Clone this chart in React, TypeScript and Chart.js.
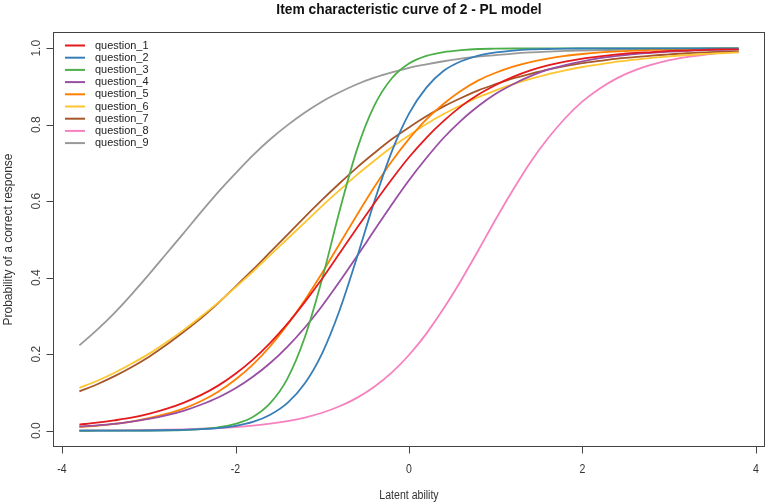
import React, { useEffect, useRef } from "react";
import { Chart, registerables } from "chart.js";

Chart.register(...registerables);

// ---- data ----
const theta = [
  -3.8, -3.6, -3.4, -3.2, -3.0, -2.8, -2.6, -2.4, -2.2, -2.0, -1.8, -1.6, -1.4,
  -1.2, -1.0, -0.8, -0.6, -0.4, -0.2, 0.0, 0.2, 0.4, 0.6, 0.8, 1.0, 1.2, 1.4,
  1.6, 1.8, 2.0, 2.2, 2.4, 2.6, 2.8, 3.0, 3.2, 3.4, 3.6, 3.8,
];

const question1 = [
  0.016, 0.021, 0.027, 0.034, 0.044, 0.057, 0.073, 0.093, 0.118, 0.149, 0.186,
  0.23, 0.28, 0.337, 0.398, 0.464, 0.53, 0.595, 0.657, 0.715, 0.766, 0.81,
  0.848, 0.879, 0.904, 0.925, 0.942, 0.955, 0.965, 0.973, 0.979, 0.984, 0.988,
  0.99, 0.993, 0.994, 0.996, 0.997, 0.997,
];
const question2 = [
  0.0001, 0.0001, 0.0002, 0.0004, 0.0007, 0.0013, 0.0023, 0.004, 0.007, 0.013,
  0.023, 0.042, 0.073, 0.124, 0.203, 0.315, 0.453, 0.599, 0.729, 0.829, 0.897,
  0.941, 0.966, 0.981, 0.989, 0.994, 0.997, 0.998, 0.999, 0.9994, 0.9997,
  0.9998, 0.9999, 0.9999, 0.9999, 0.9999, 0.9999, 0.9999, 0.9999,
];
const question3 = [
  0.00003, 0.00006, 0.0001, 0.0003, 0.0005, 0.001, 0.002, 0.0044, 0.009, 0.018,
  0.036, 0.072, 0.137, 0.245, 0.398, 0.575, 0.735, 0.85, 0.921, 0.96, 0.98,
  0.99, 0.995, 0.998, 0.9988, 0.9994, 0.9997, 0.9999, 0.9999, 0.9999, 0.9999,
  0.9999, 0.9999, 0.9999, 0.9999, 0.9999, 0.9999, 0.9999, 0.9999,
];
const question4 = [
  0.011, 0.014, 0.018, 0.024, 0.031, 0.04, 0.052, 0.068, 0.087, 0.111, 0.141,
  0.177, 0.22, 0.27, 0.327, 0.39, 0.456, 0.524, 0.591, 0.655, 0.713, 0.766,
  0.811, 0.849, 0.881, 0.906, 0.927, 0.944, 0.956, 0.966, 0.974, 0.98, 0.985,
  0.988, 0.991, 0.993, 0.995, 0.996, 0.997,
];
const question5 = [
  0.01, 0.013, 0.018, 0.024, 0.033, 0.044, 0.058, 0.077, 0.102, 0.134, 0.173,
  0.221, 0.278, 0.342, 0.413, 0.489, 0.564, 0.637, 0.704, 0.763, 0.814, 0.855,
  0.889, 0.916, 0.936, 0.952, 0.964, 0.973, 0.98, 0.985, 0.989, 0.992, 0.994,
  0.996, 0.997, 0.998, 0.998, 0.9987, 0.999,
];
const question6 = [
  0.112, 0.13, 0.151, 0.175, 0.201, 0.231, 0.263, 0.298, 0.335, 0.375, 0.416,
  0.459, 0.502, 0.545, 0.588, 0.629, 0.669, 0.706, 0.741, 0.772, 0.802, 0.828,
  0.851, 0.872, 0.89, 0.906, 0.92, 0.932, 0.942, 0.951, 0.958, 0.965, 0.97,
  0.975, 0.979, 0.982, 0.985, 0.987, 0.989,
];
const question7 = [
  0.103, 0.121, 0.142, 0.166, 0.193, 0.224, 0.258, 0.294, 0.334, 0.377, 0.421,
  0.467, 0.513, 0.559, 0.604, 0.647, 0.688, 0.726, 0.762, 0.793, 0.822, 0.848,
  0.87, 0.89, 0.906, 0.921, 0.933, 0.944, 0.953, 0.961, 0.967, 0.973, 0.977,
  0.981, 0.984, 0.987, 0.989, 0.991, 0.992,
];
const question8 = [
  0.0005, 0.0008, 0.001, 0.0014, 0.002, 0.0027, 0.0037, 0.0052, 0.0071, 0.0098,
  0.0134, 0.0184, 0.0253, 0.0345, 0.047, 0.064, 0.086, 0.115, 0.152, 0.198,
  0.254, 0.32, 0.393, 0.472, 0.553, 0.63, 0.702, 0.764, 0.817, 0.861, 0.895,
  0.922, 0.942, 0.957, 0.969, 0.977, 0.983, 0.988, 0.991,
];
const question9 = [
  0.223, 0.263, 0.307, 0.356, 0.408, 0.462, 0.516, 0.571, 0.624, 0.673, 0.72,
  0.762, 0.799, 0.832, 0.861, 0.885, 0.906, 0.923, 0.937, 0.949, 0.958, 0.966,
  0.973, 0.978, 0.982, 0.986, 0.989, 0.991, 0.993, 0.994, 0.995, 0.996, 0.997,
  0.9975, 0.998, 0.9984, 0.9987, 0.999, 0.9992,
];

const seriesNames = [
  "question_1", "question_2", "question_3", "question_4", "question_5",
  "question_6", "question_7", "question_8", "question_9",
];
const seriesValues = [
  question1, question2, question3, question4, question5,
  question6, question7, question8, question9,
];
const seriesColors = [
  "#E41A1C", "#377EB8", "#4DAF4A", "#984EA3", "#FF7F00",
  "#FDC530", "#A65628", "#F781BF", "#999999",
];

const xTickValues = [-4, -2, 0, 2, 4];
const xTickLabels = ["-4", "-2", "0", "2", "4"];
const yTickValues = [0, 0.2, 0.4, 0.6, 0.8, 1.0];
const yTickLabels = ["0.0", "0.2", "0.4", "0.6", "0.8", "1.0"];

const chartTitle = "Item characteristic curve of 2 - PL model";
const xAxisTitle = "Latent ability";
const yAxisTitle = "Probability of a correct response";

const SANS = '"Liberation Sans", Arial, "DejaVu Sans", sans-serif';

function hText(
  ctx: CanvasRenderingContext2D,
  text: string,
  x: number,
  y: number,
  font: string,
  color: string,
  align: CanvasTextAlign,
  sx: number
) {
  ctx.save();
  ctx.font = font;
  ctx.fillStyle = color;
  ctx.textAlign = align;
  ctx.textBaseline = "middle";
  ctx.translate(x, y);
  ctx.scale(sx, 1);
  ctx.fillText(text, 0, 0);
  ctx.restore();
}

function vText(
  ctx: CanvasRenderingContext2D,
  text: string,
  x: number,
  y: number,
  font: string,
  color: string
) {
  ctx.save();
  ctx.font = font;
  ctx.fillStyle = color;
  ctx.textAlign = "center";
  ctx.textBaseline = "middle";
  ctx.translate(x, y);
  ctx.rotate(-Math.PI / 2);
  ctx.fillText(text, 0, 0);
  ctx.restore();
}

const rDecor = {
  id: "rDecor",
  afterDraw(chart: any) {
    const ctx: CanvasRenderingContext2D = chart.ctx;
    const { left, right, top, bottom } = chart.chartArea;
    const xs = chart.scales.x;
    const ys = chart.scales.y;
    ctx.save();
    // plot box
    ctx.strokeStyle = "#444";
    ctx.lineWidth = 1;
    ctx.strokeRect(
      Math.round(left) + 0.5,
      Math.round(top) + 0.5,
      Math.round(right - left) - 1,
      Math.round(bottom - top) - 1
    );
    const bx = Math.round(left) + 0.5;
    const by = Math.round(bottom) - 0.5;
    // x axis ticks & labels
    ctx.beginPath();
    xTickValues.forEach((v) => {
      const px = Math.round(xs.getPixelForValue(v)) + 0.5;
      ctx.moveTo(px, by);
      ctx.lineTo(px, by + 7);
    });
    ctx.stroke();
    xTickValues.forEach((v, i) => {
      const px = xs.getPixelForValue(v);
      hText(ctx, xTickLabels[i], px, 470, `12px ${SANS}`, "#333", "center", 0.88);
    });
    // y axis ticks & labels
    ctx.beginPath();
    yTickValues.forEach((v) => {
      const py = Math.round(ys.getPixelForValue(v)) + 0.5;
      ctx.moveTo(bx, py);
      ctx.lineTo(bx - 7, py);
    });
    ctx.stroke();
    yTickValues.forEach((v, i) => {
      const py = ys.getPixelForValue(v);
      vText(ctx, yTickLabels[i], 37, py, `12px ${SANS}`, "#444");
    });
    // axis titles
    hText(ctx, xAxisTitle, (left + right) / 2, 496, `12px ${SANS}`, "#333", "center", 0.88);
    vText(ctx, yAxisTitle, 9, (top + bottom) / 2, `12px ${SANS}`, "#333");
    // main title
    hText(ctx, chartTitle, (left + right) / 2, 10, `bold 15px ${SANS}`, "#111", "center", 0.92);
    // legend
    chart.data.datasets.forEach((ds: any, i: number) => {
      const ly = 45.5 + i * 12.2;
      ctx.strokeStyle = ds.borderColor;
      ctx.lineWidth = 2;
      ctx.beginPath();
      ctx.moveTo(65, ly);
      ctx.lineTo(85, ly);
      ctx.stroke();
      hText(ctx, ds.label, 95, ly, `11.5px ${SANS}`, "#222", "left", 0.95);
    });
    ctx.restore();
  },
};

export default function App() {
  const canvasRef = useRef<HTMLCanvasElement | null>(null);

  useEffect(() => {
    document.body.style.margin = "0";
    const canvas = canvasRef.current;
    if (!canvas) return;
    const chart = new Chart(canvas, {
      type: "line",
      data: {
        datasets: seriesValues.map((vals, i) => ({
          label: seriesNames[i],
          data: theta.map((t, j) => ({ x: t, y: vals[j] })),
          borderColor: seriesColors[i],
          backgroundColor: seriesColors[i],
          borderWidth: 1.8,
          pointRadius: 0,
          fill: false,
          cubicInterpolationMode: "monotone" as const,
        })),
      },
      options: {
        responsive: false,
        animation: false,
        devicePixelRatio: 1,
        layout: { padding: { left: 53, right: 2, top: 32, bottom: 57 } },
        scales: {
          x: { type: "linear", min: -4.104, max: 4.104, display: false },
          y: { type: "linear", min: -0.0425, max: 1.0425, display: false },
        },
        plugins: {
          legend: { display: false },
          title: { display: false },
          tooltip: { enabled: false },
        },
        events: [],
      },
      plugins: [rDecor],
    });
    return () => chart.destroy();
  }, []);

  return (
    <div style={{ width: 767, height: 504, background: "#fff" }}>
      <canvas ref={canvasRef} width={767} height={504} style={{ display: "block" }} />
    </div>
  );
}
